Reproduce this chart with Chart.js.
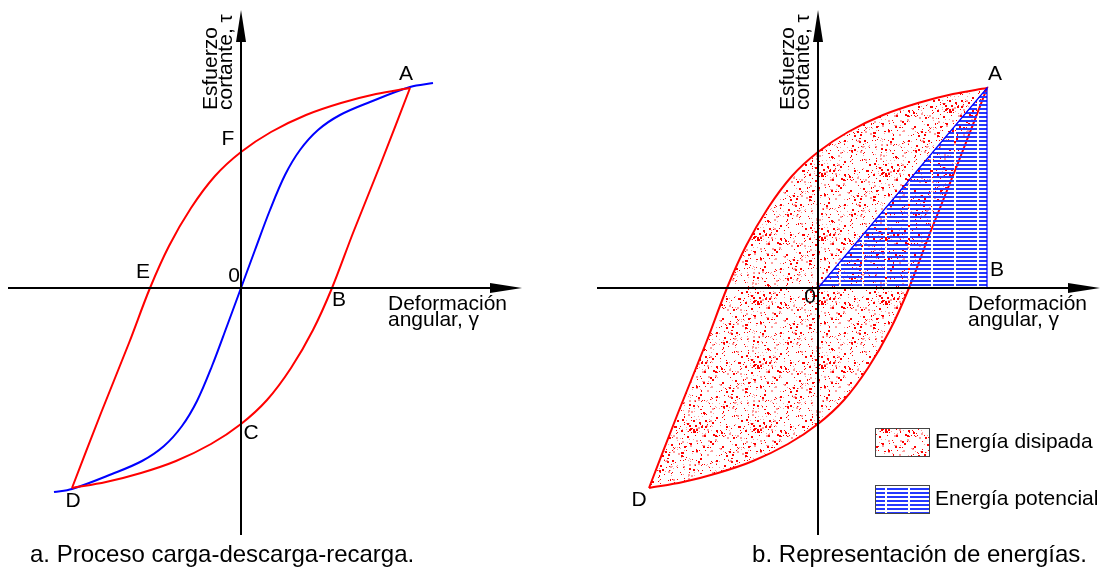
<!DOCTYPE html>
<html>
<head>
<meta charset="utf-8">
<script src="https://cdn.jsdelivr.net/npm/chart.js@4.4.0/dist/chart.umd.min.js"></script>
<style>
  html, body { margin: 0; padding: 0; background: #fff; }
  #wrap { position: relative; width: 1105px; height: 573px; }
  .panel { position: absolute; top: 0; height: 573px; }
  #left { left: 0; width: 552px; }
  #right { left: 552px; width: 553px; }
</style>
</head>
<body>
<div id="wrap">
  <div class="panel" id="left"><canvas id="chartA"></canvas></div>
  <div class="panel" id="right"><canvas id="chartB"></canvas></div>
</div>
<script>
// Rama superior del lazo (D -> E -> F -> A)
const upperX = [-1.69, -1.40, -1.12, -0.91, -0.72, -0.50, -0.26, 0.00, 0.30, 0.65, 1.00, 1.35, 1.69];
const upperY = [-2.00, -1.25, -0.55, 0.00, 0.42, 0.80, 1.12, 1.36, 1.56, 1.73, 1.85, 1.94, 2.00];
// Rama inferior del lazo (A -> B -> C -> D)
const lowerX = [1.69, 1.40, 1.12, 0.91, 0.72, 0.50, 0.26, 0.00, -0.30, -0.65, -1.00, -1.35, -1.69];
const lowerY = [2.00, 1.25, 0.55, 0.00, -0.42, -0.80, -1.12, -1.36, -1.56, -1.73, -1.85, -1.94, -2.00];
// Curva de carga inicial (azul)
const loadX = [-1.87, -1.69, -1.29, -0.99, -0.77, -0.59, -0.44, -0.29, -0.14, 0.00, 0.14, 0.29, 0.44, 0.59, 0.77, 0.99, 1.29, 1.69, 1.92];
const loadY = [-2.04, -2.01, -1.86, -1.73, -1.58, -1.38, -1.13, -0.78, -0.38, 0.00, 0.38, 0.78, 1.13, 1.38, 1.58, 1.73, 1.86, 2.01, 2.05];
// Triangulo de energia potencial (0 - A - B)
const triX = [0.00, 1.69, 1.69, 0.00];
const triY = [0.00, 2.00, 0.00, 0.00];

// Puntos con nombre: [etiqueta, x, y, dx, dy] (dx, dy en px)
const labelsA = [
  ['A', 1.69, 2.00, -4, -14], ['F', 0, 1.36, -13, -13], ['E', -0.91, 0, -7, -16],
  ['0', 0, 0, -7, -12], ['B', 0.91, 0, 7, 12], ['C', 0, -1.36, 10, 9], ['D', -1.69, -2.00, 1, 13]
];
const labelsB = [
  ['A', 1.69, 2.00, 8, -14], ['B', 1.69, 0, 10, -18], ['0', 0, 0, -8, 9], ['D', -1.69, -2.00, -10, 12]
];

const RED = '#ff0000';
const BLUE = '#0000ff';
const FONT = '21px "Liberation Sans", Arial, sans-serif';

const pts = (xs, ys) => xs.map((x, i) => ({ x: x, y: ys[i] }));

function stipple() {
  const c = document.createElement('canvas');
  c.width = 64; c.height = 64;
  const g = c.getContext('2d');
  let s = 11;
  const rnd = () => { s = (s * 16807) % 2147483647; return s / 2147483647; };
  for (let i = 0; i < 330; i++) {
    const a = rnd();
    g.fillStyle = a < 0.6 ? 'rgba(255,0,0,1)' : 'rgba(255,40,40,0.45)';
    const r = rnd() < 0.3 ? 2 : 1;
    g.fillRect(Math.floor(rnd() * 64), Math.floor(rnd() * 64), r, r);
  }
  return g.createPattern(c, 'repeat');
}

function hatch() {
  const c = document.createElement('canvas');
  c.width = 23; c.height = 4;
  const g = c.getContext('2d');
  g.fillStyle = '#2438ff';
  g.fillRect(0, 0, 23, 2);
  g.clearRect(11, 0, 2, 4);
  return g.createPattern(c, 'repeat');
}

function arrow(ctx, x0, y0, x1, y1) {
  const len = 32, half = 5;
  const ang = Math.atan2(y1 - y0, x1 - x0);
  const bx = x1 - len * Math.cos(ang), by = y1 - len * Math.sin(ang);
  ctx.beginPath();
  ctx.moveTo(x0, y0);
  ctx.lineTo(bx, by);
  ctx.stroke();
  ctx.beginPath();
  ctx.moveTo(x1, y1);
  ctx.lineTo(bx + half * Math.sin(ang), by - half * Math.cos(ang));
  ctx.lineTo(bx - half * Math.sin(ang), by + half * Math.cos(ang));
  ctx.closePath();
  ctx.fill();
}

// ejes, flechas y rotulos
function axesPlugin(id, axis, labels, extra) {
  return {
    id: id,
    afterDatasetsDraw(chart) {
      const ctx = chart.ctx;
      const sx = chart.scales.x, sy = chart.scales.y;
      const X = v => sx.getPixelForValue(v), Y = v => sy.getPixelForValue(v);
      ctx.save();
      ctx.strokeStyle = '#000';
      ctx.fillStyle = '#000';
      ctx.lineWidth = 2;
      arrow(ctx, X(0), Y(axis.yMin), X(0), Y(axis.yMax));
      arrow(ctx, X(axis.xMin), Y(0), X(axis.xMax), Y(0));

      ctx.font = FONT;
      ctx.textAlign = 'center';
      ctx.textBaseline = 'middle';
      labels.forEach(l => ctx.fillText(l[0], X(l[1]) + l[3], Y(l[2]) + l[4]));

      // rotulo eje vertical
      ctx.textAlign = 'left';
      ctx.textBaseline = 'alphabetic';
      ctx.save();
      ctx.translate(X(0) - 24, 110);
      ctx.rotate(-Math.PI / 2);
      ctx.fillText('Esfuerzo', 0, 0);
      ctx.fillText('cortante, \u03c4', 0, 15);
      ctx.restore();
      // rotulo eje horizontal
      ctx.fillText('Deformaci\u00f3n', axis.hx, 310);
      ctx.fillText('angular, \u03b3', axis.hx, 326);

      // pie de figura
      ctx.font = '24px "Liberation Sans", sans-serif';
      ctx.textAlign = axis.ca;
      ctx.fillText(axis.caption, axis.cx, 562);
      if (extra) extra(ctx);
      ctx.restore();
    }
  };
}

const common = {
  responsive: true,
  maintainAspectRatio: false,
  animation: false,
  layout: { padding: 0 },
  plugins: { legend: { display: false }, tooltip: { enabled: false } },
  elements: { point: { radius: 0 } }
};

new Chart(document.getElementById('chartA'), {
  type: 'scatter',
  data: {
    datasets: [
      { data: pts(upperX, upperY), showLine: true, borderColor: RED, borderWidth: 2, tension: 0.35, fill: false },
      { data: pts(lowerX, lowerY), showLine: true, borderColor: RED, borderWidth: 2, tension: 0.35, fill: false },
      { data: pts(loadX, loadY), showLine: true, borderColor: BLUE, borderWidth: 2, tension: 0.35, fill: false }
    ]
  },
  options: Object.assign({}, common, {
    scales: {
      x: { type: 'linear', min: -2.41, max: 3.11, display: false },
      y: { type: 'linear', min: -2.85, max: 2.88, display: false }
    }
  }),
  plugins: [axesPlugin('ejesA',
    { yMin: -2.47, yMax: 2.78, xMin: -2.33, xMax: 2.81, hx: 388, cx: 30, ca: 'left',
      caption: 'a. Proceso carga-descarga-recarga.' },
    labelsA)]
});

const redFill = stipple();
const blueFill = hatch();

new Chart(document.getElementById('chartB'), {
  type: 'scatter',
  data: {
    datasets: [
      { data: pts(triX, triY), showLine: true, borderColor: BLUE, borderWidth: 1.2, tension: 0,
        fill: 'shape', backgroundColor: blueFill },
      { data: pts(upperX.concat(lowerX), upperY.concat(lowerY)), showLine: true, borderColor: RED,
        borderWidth: 2, tension: 0.35, fill: 'shape', backgroundColor: redFill }
    ]
  },
  options: Object.assign({}, common, {
    scales: {
      x: { type: 'linear', min: -2.66, max: 2.87, display: false },
      y: { type: 'linear', min: -2.85, max: 2.88, display: false }
    }
  }),
  plugins: [axesPlugin('ejesB',
    { yMin: -2.47, yMax: 2.78, xMin: -2.21, xMax: 2.82, hx: 416, cx: 535, ca: 'right',
      caption: 'b. Representaci\u00f3n de energ\u00edas.' },
    labelsB,
    ctx => {
      // leyenda
      const items = [['Energ\u00eda disipada', redFill, 428], ['Energ\u00eda potencial', blueFill, 485]];
      ctx.font = FONT;
      ctx.textBaseline = 'middle';
      ctx.textAlign = 'left';
      items.forEach(it => {
        ctx.fillStyle = it[1];
        ctx.fillRect(323, it[2], 54, 28);
        ctx.strokeStyle = '#444';
        ctx.lineWidth = 1;
        ctx.strokeRect(323.5, it[2] + 0.5, 54, 28);
        ctx.fillStyle = '#000';
        ctx.fillText(it[0], 383, it[2] + 14);
      });
    })]
});
</script>
</body>
</html>
